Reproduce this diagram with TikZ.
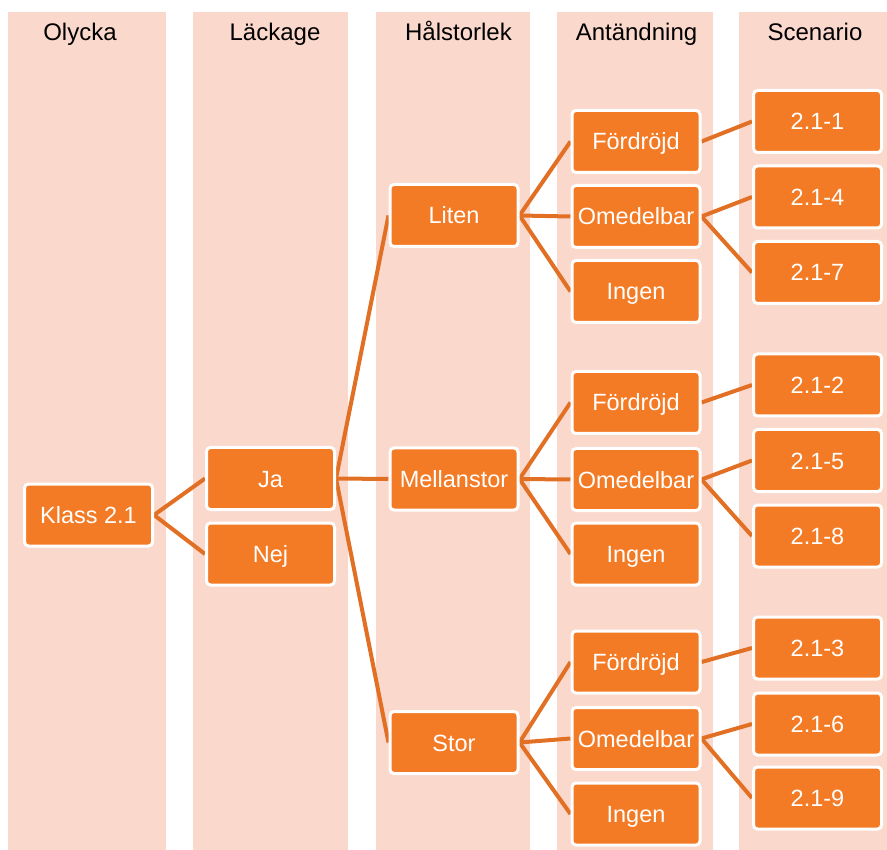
\documentclass[tikz,border=0pt]{standalone}
\usepackage{fontspec}
\setmainfont{Liberation Sans}
\usetikzlibrary{backgrounds}
\definecolor{lanebg}{RGB}{250,216,204}
\definecolor{boxfill}{RGB}{244,123,37}
\definecolor{linkcol}{RGB}{226,112,36}
\begin{document}
\begin{tikzpicture}[x=1pt,y=-1pt,
  box/.style={draw=white, line width=3pt, fill=boxfill, rounded corners=4pt,
    minimum width=128pt, minimum height=62pt, inner sep=0pt,
    text height=17pt, text depth=0pt, text=white,
    font=\fontsize{23.5}{28}\selectfont},
  lanetitle/.style={font=\fontsize{24}{28}\selectfont, text=black, anchor=base, inner sep=0pt},
  link/.style={draw=linkcol, line width=4pt}]
\useasboundingbox (0,0) rectangle (887,850);

% column titles
\node[lanetitle] (t1) at (80,41) {Olycka};
\node[lanetitle] (t2) at (275,41) {Läckage};
\node[lanetitle] (t3) at (458.5,41) {Hålstorlek};
\node[lanetitle] (t4) at (636.5,41) {Antändning};
\node[lanetitle] (t5) at (815,41) {Scenario};

% tree nodes
\node[box] (klass) at (88.5,515) {Klass 2.1};
\node[box] (ja) at (270.5,478.5) {Ja};
\node[box] (nej) at (270.5,554) {Nej};

\node[box] (liten) at (454,215.5) {Liten};
\node[box] (mellan) at (454,479) {Mellanstor};
\node[box] (stor) at (454,742.5) {Stor};

\node[box] (f1) at (636,141.5) {Fördröjd};
\node[box] (o1) at (636,216.5) {Omedelbar};
\node[box] (i1) at (636,291.5) {Ingen};
\node[box] (f2) at (636,402.5) {Fördröjd};
\node[box] (o2) at (636,479.5) {Omedelbar};
\node[box] (i2) at (636,554) {Ingen};
\node[box] (f3) at (636,662) {Fördröjd};
\node[box] (o3) at (636,738.5) {Omedelbar};
\node[box] (i3) at (636,814) {Ingen};

\node[box] (s1) at (817.5,121.5) {2.1-1};
\node[box] (s4) at (817.5,197) {2.1-4};
\node[box] (s7) at (817.5,272.5) {2.1-7};
\node[box] (s2) at (817.5,385) {2.1-2};
\node[box] (s5) at (817.5,460.5) {2.1-5};
\node[box] (s8) at (817.5,536) {2.1-8};
\node[box] (s3) at (817.5,648) {2.1-3};
\node[box] (s6) at (817.5,724) {2.1-6};
\node[box] (s9) at (817.5,798) {2.1-9};

\begin{pgfonlayer}{background}
  % column lanes
  \fill[lanebg] (8,12) rectangle (166,850);
  \fill[lanebg] (193,12) rectangle (348,850);
  \fill[lanebg] (376,12) rectangle (530,850);
  \fill[lanebg] (557,12) rectangle (713,850);
  \fill[lanebg] (739,12) rectangle (887,850);
  % connectors
  \draw[link] (klass.east) -- (ja.west);
  \draw[link] (klass.east) -- (nej.west);
  \draw[link] (ja.east) -- (liten.west);
  \draw[link] (ja.east) -- (mellan.west);
  \draw[link] (ja.east) -- (stor.west);
  \foreach \p/\f/\o/\i in {liten/f1/o1/i1, mellan/f2/o2/i2, stor/f3/o3/i3}{
    \draw[link] (\p.east) -- (\f.west);
    \draw[link] (\p.east) -- (\o.west);
    \draw[link] (\p.east) -- (\i.west);
  }
  \foreach \f/\o/\a/\b/\c in {f1/o1/s1/s4/s7, f2/o2/s2/s5/s8, f3/o3/s3/s6/s9}{
    \draw[link] (\f.east) -- (\a.west);
    \draw[link] (\o.east) -- (\b.west);
    \draw[link] (\o.east) -- (\c.west);
  }
\end{pgfonlayer}
\end{tikzpicture}
\end{document}
